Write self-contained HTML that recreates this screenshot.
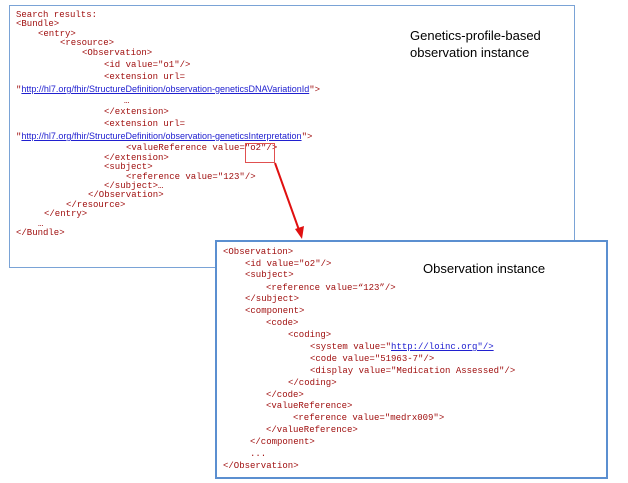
<!DOCTYPE html>
<html><head><style>
body{margin:0;width:628px;height:483px;background:#fff;position:relative;overflow:hidden}
.box{position:absolute;border:1.5px solid #5b8fd0;background:#fff}
.t{position:absolute;font-family:"Liberation Mono",monospace;font-size:9px;color:#a01010;white-space:pre;line-height:1}
.l{position:absolute;font-family:"Liberation Sans",sans-serif;font-size:13px;color:#000;line-height:17px}
a{color:#2020d0;text-decoration:underline;font-family:"Liberation Sans",sans-serif;font-size:9px}
</style></head><body>
<div class="box" style="left:9px;top:5px;width:564px;height:261px;border-color:#7aa3d6"></div>
<div class="l" style="left:410px;top:27px">Genetics-profile-based<br>observation instance</div>
<div class="t" style="left:16px;top:11px">Search results:</div>
<div class="t" style="left:16px;top:20px">&lt;Bundle&gt;</div>
<div class="t" style="left:38px;top:30px">&lt;entry&gt;</div>
<div class="t" style="left:60px;top:39px">&lt;resource&gt;</div>
<div class="t" style="left:82px;top:49px">&lt;Observation&gt;</div>
<div class="t" style="left:104px;top:61px">&lt;id value="o1"/&gt;</div>
<div class="t" style="left:104px;top:73px">&lt;extension url=</div>
<div class="t" style="left:16px;top:85px">"<a>http://hl7.org/fhir/StructureDefinition/observation-geneticsDNAVariationId</a>"&gt;</div>
<div class="t" style="left:124px;top:97px">…</div>
<div class="t" style="left:104px;top:108px">&lt;/extension&gt;</div>
<div class="t" style="left:104px;top:120px">&lt;extension url=</div>
<div class="t" style="left:16px;top:132px">"<a>http://hl7.org/fhir/StructureDefinition/observation-geneticsInterpretation</a>"&gt;</div>
<div class="t" style="left:126px;top:144px">&lt;valueReference value="o2"/&gt;</div>
<div class="t" style="left:104px;top:154px">&lt;/extension&gt;</div>
<div class="t" style="left:104px;top:163px">&lt;subject&gt;</div>
<div class="t" style="left:126px;top:173px">&lt;reference value="123"/&gt;</div>
<div class="t" style="left:104px;top:182px">&lt;/subject&gt;…</div>
<div class="t" style="left:88px;top:191px">&lt;/Observation&gt;</div>
<div class="t" style="left:66px;top:201px">&lt;/resource&gt;</div>
<div class="t" style="left:44px;top:210px">&lt;/entry&gt;</div>
<div class="t" style="left:38px;top:220px">…</div>
<div class="t" style="left:16px;top:229px">&lt;/Bundle&gt;</div>

<div class="box" style="left:215px;top:240px;width:389px;height:235px;border-width:2px"></div>
<div class="l" style="left:423px;top:260px">Observation instance</div>
<div class="t" style="left:223px;top:248px">&lt;Observation&gt;</div>
<div class="t" style="left:245px;top:260px">&lt;id value="o2"/&gt;</div>
<div class="t" style="left:245px;top:271px">&lt;subject&gt;</div>
<div class="t" style="left:266px;top:284px">&lt;reference value=“123”/&gt;</div>
<div class="t" style="left:245px;top:295px">&lt;/subject&gt;</div>
<div class="t" style="left:245px;top:307px">&lt;component&gt;</div>
<div class="t" style="left:266px;top:319px">&lt;code&gt;</div>
<div class="t" style="left:288px;top:331px">&lt;coding&gt;</div>
<div class="t" style="left:310px;top:343px">&lt;system value="<span style="color:#2020d0;text-decoration:underline">http://loinc.org"/&gt;</span></div>
<div class="t" style="left:310px;top:355px">&lt;code value="51963-7"/&gt;</div>
<div class="t" style="left:310px;top:367px">&lt;display value="Medication Assessed"/&gt;</div>
<div class="t" style="left:288px;top:379px">&lt;/coding&gt;</div>
<div class="t" style="left:266px;top:391px">&lt;/code&gt;</div>
<div class="t" style="left:266px;top:402px">&lt;valueReference&gt;</div>
<div class="t" style="left:293px;top:414px">&lt;reference value="medrx009"&gt;</div>
<div class="t" style="left:266px;top:426px">&lt;/valueReference&gt;</div>
<div class="t" style="left:250px;top:438px">&lt;/component&gt;</div>
<div class="t" style="left:250px;top:450px">...</div>
<div class="t" style="left:223px;top:462px">&lt;/Observation&gt;</div>

<svg style="position:absolute;left:0;top:0" width="628" height="483">
<rect x="245.5" y="143.5" width="29" height="19" fill="none" stroke="#e05050" stroke-width="1"/>
<line x1="275" y1="163" x2="299" y2="230" stroke="#e01010" stroke-width="2"/>
<polygon points="302,239 295,229 304,226" fill="#e01010"/>
</svg>
</body></html>
